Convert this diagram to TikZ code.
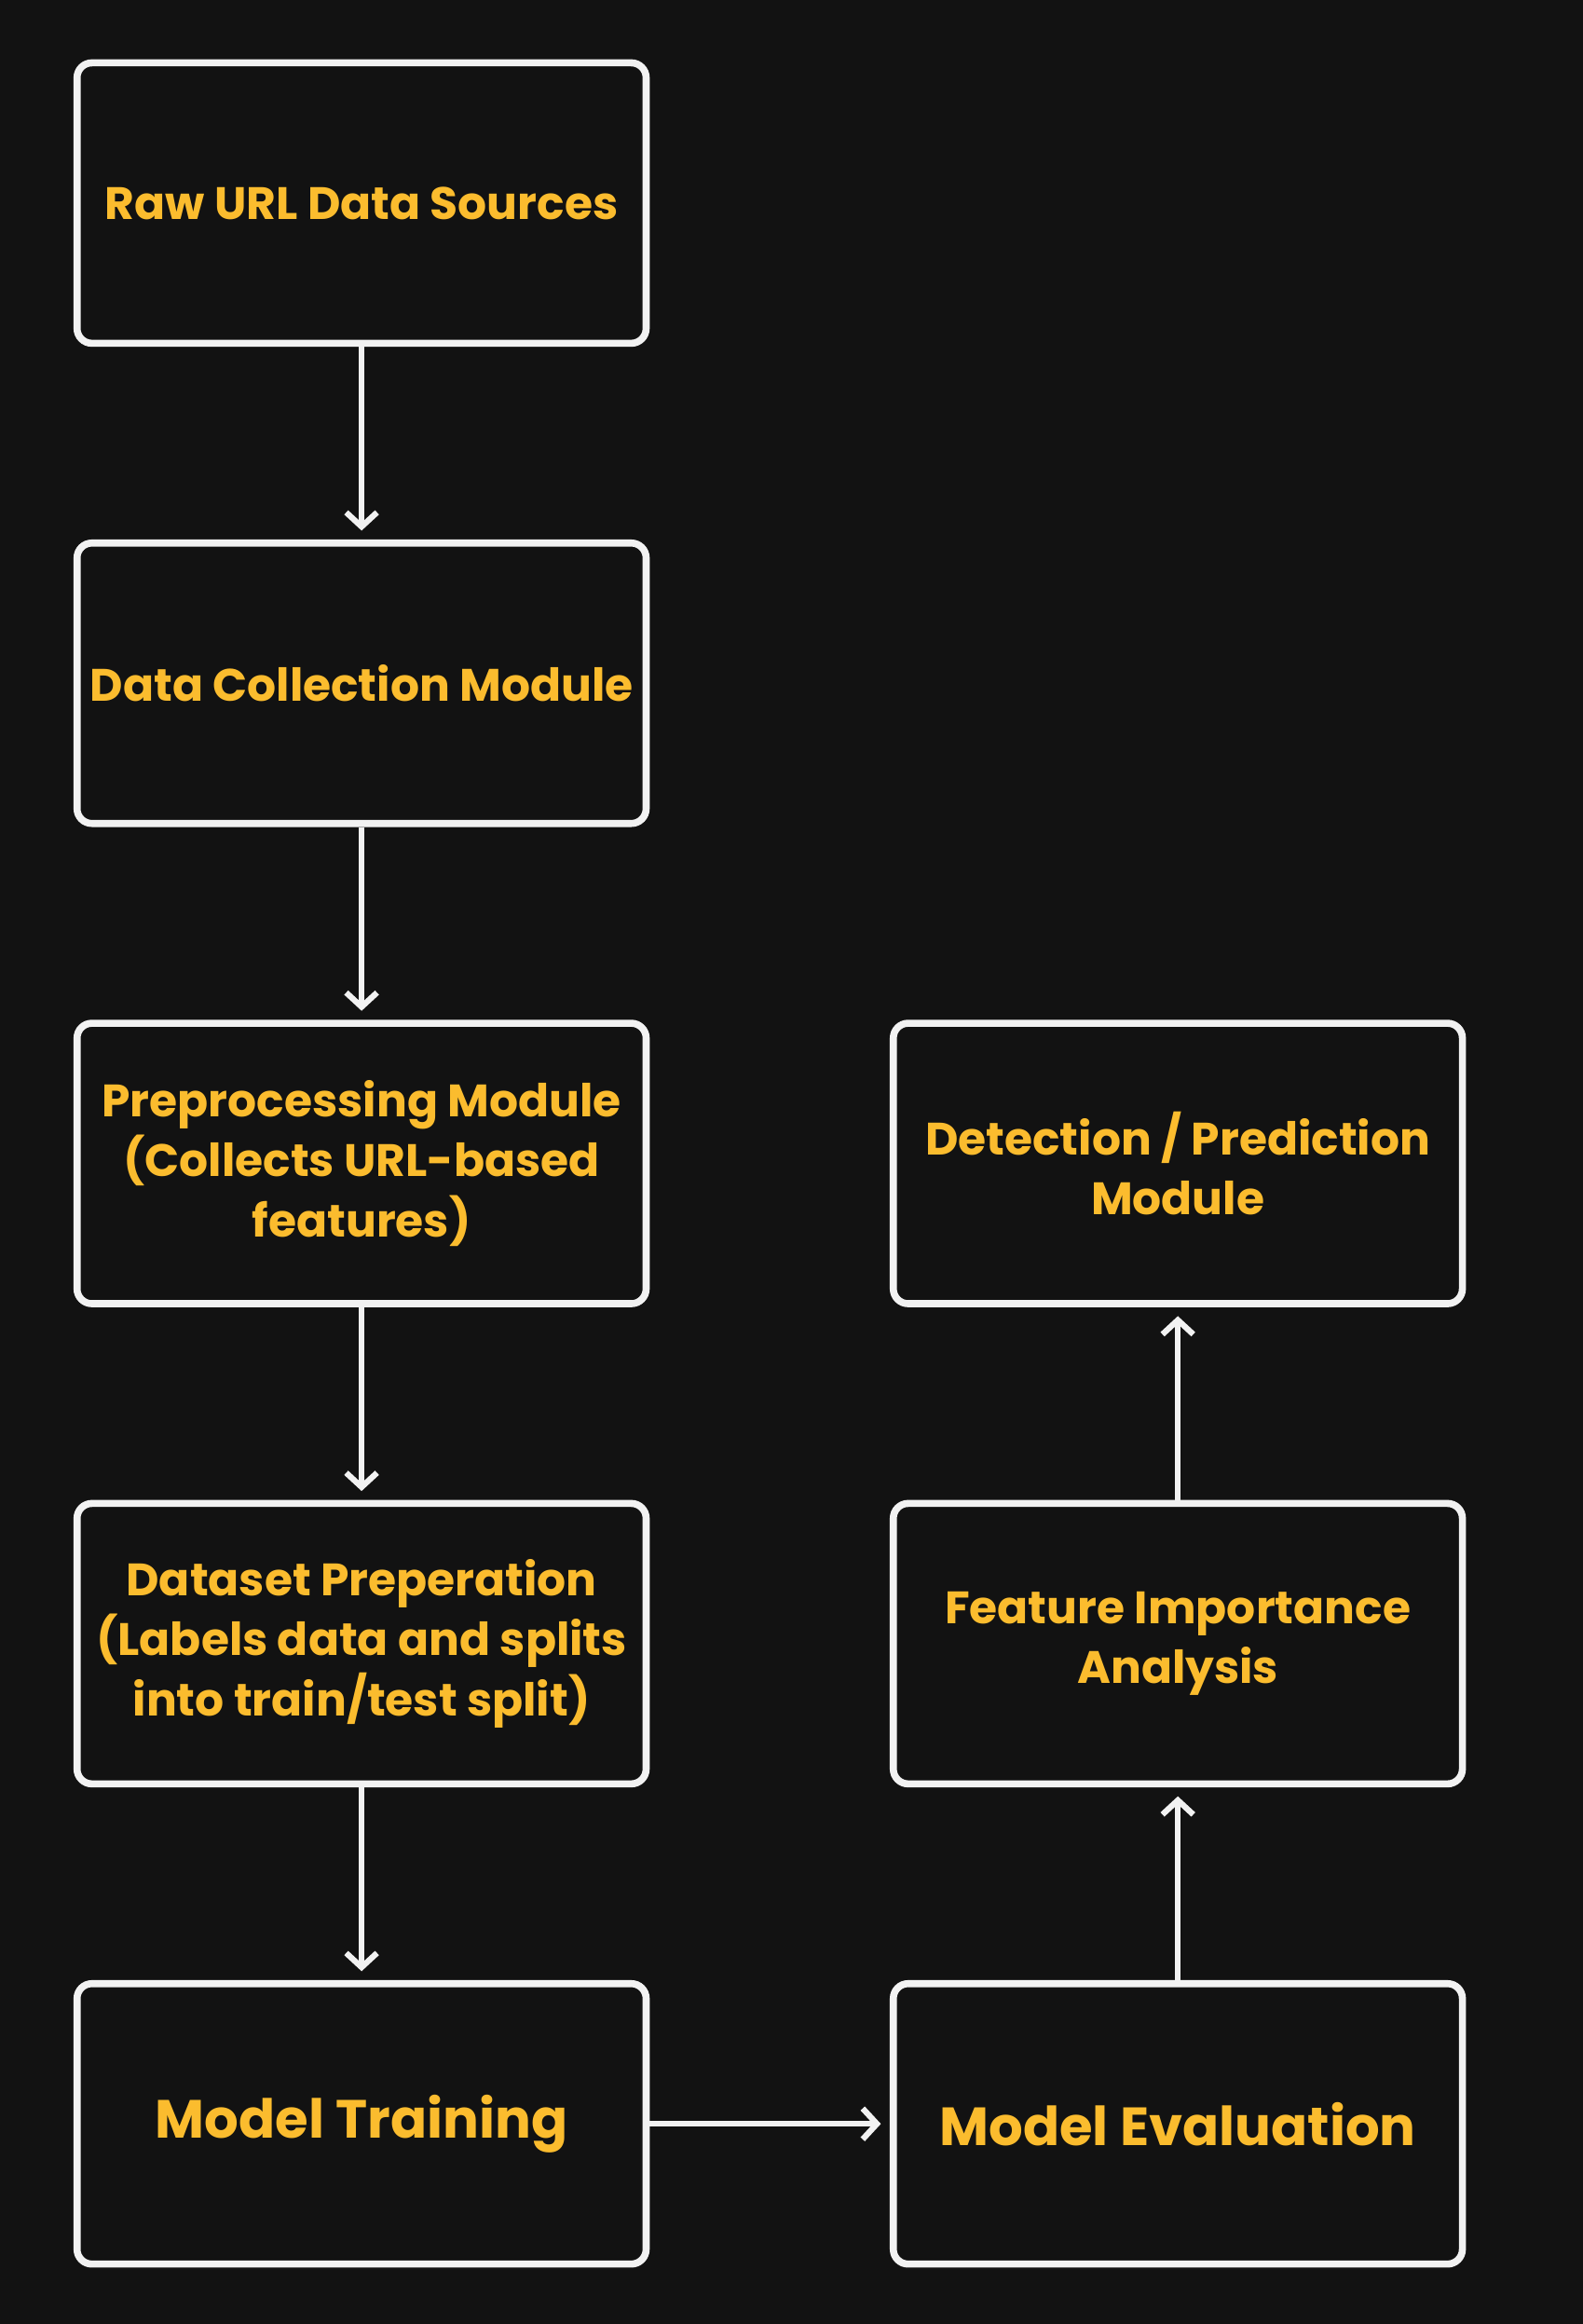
\documentclass[tikz,border=0pt]{standalone}
\usepackage{fontspec}
\setmainfont{Poppins}
\usetikzlibrary{arrows, arrows.meta, positioning}
\definecolor{bgdark}{HTML}{121212}
\definecolor{boxline}{HTML}{F2F2F2}
\definecolor{labelgold}{HTML}{FBBC2E}

\begin{document}
\begin{tikzpicture}[x=0.25mm, y=-0.25mm, node distance = 32.5mm and 40.5mm]
      \tikzstyle{stage} = [rectangle, rounded corners=2.5mm, minimum width=96mm, minimum height=47.3mm, line width=3.4pt, draw=boxline, fill=bgdark, text=labelgold, align=center, font=\fontsize{21.8}{29}\selectfont\bfseries]
      \tikzstyle{big} = [font=\fontsize{25.8}{29}\selectfont\bfseries]
      \tikzstyle{connect} = [-{Straight Barb[length=2.4mm, width=5.2mm]}, line width=2.8pt, draw=boxline, shorten >=1.5mm]
      \fill[bgdark] (0,0) rectangle (1068,1568);
      \useasboundingbox (0,0) rectangle (1068,1568);
      \node[stage] (raw) at (244,137) {Raw URL Data Sources};
      \node[stage, below=of raw] (collect) {Data Collection Module};
      \node[stage, below=of collect] (prep) {Preprocessing Module\\(Collects URL-based\\features)};
      \node[stage, below=of prep] (dataset) {Dataset Preperation\\(Labels data and splits\\into train/test split)};
      \node[stage, big, below=of dataset] (train) {Model Training};
      \node[stage, big, right=of train] (eval) {Model Evaluation};
      \node[stage, right=of dataset] (feat) {Feature Importance\\Analysis};
      \node[stage, right=of prep] (detect) {Detection / Prediction\\Module};
      \path (raw) edge [connect] (collect) (collect) edge [connect] (prep) (prep) edge [connect] (dataset)
            (dataset) edge [connect] (train) (train) edge [connect] (eval) (eval) edge [connect] (feat)
            (feat) edge [connect] (detect);
    \end{tikzpicture}
\end{document}
